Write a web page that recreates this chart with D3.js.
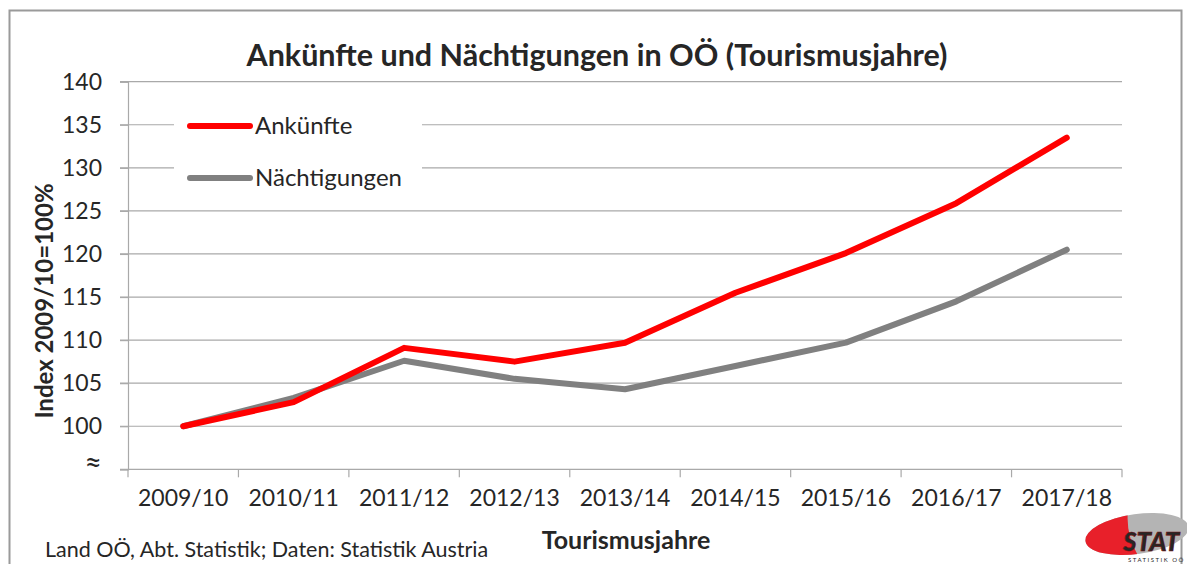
<!DOCTYPE html>
<html>
<head>
<meta charset="utf-8">
<script src="https://cdn.jsdelivr.net/npm/d3@7"></script>
<style>
  body { margin: 0; background: #fff; }
  text { font-family: Lato, "Open Sans", sans-serif; fill: #262626; }
</style>
</head>
<body>
<div id="container"></div>
<script>
/* DATA */
const years = ["2009/10", "2010/11", "2011/12", "2012/13", "2013/14", "2014/15", "2015/16", "2016/17", "2017/18"];
const ankuenfte = [100, 102.8, 109.1, 107.5, 109.7, 115.5, 120.1, 125.9, 133.5];
const naechtigungen = [100, 103.3, 107.6, 105.5, 104.3, 107.0, 109.7, 114.5, 120.5];
const yTicks = [95, 100, 105, 110, 115, 120, 125, 130, 135, 140];
const seriesNames = ["Ankünfte", "Nächtigungen"];
const seriesColors = ["#ff0000", "#808080"];

/* CONSTANTS */
const width = 1187;
const height = 564;
const plotLeft = 128, plotRight = 1122, plotTop = 81.7, plotBottom = 469.3;
const gridColor = "#a9a9a9";

const svg = d3.select("#container")
  .append("svg")
  .attr("width", width)
  .attr("height", height);

// frame
svg.append("rect")
  .attr("x", 9.5).attr("y", 10.5)
  .attr("width", 1172).attr("height", 600)
  .attr("fill", "none")
  .attr("stroke", "#9a9a9a")
  .attr("stroke-width", 2);

/* SCALES */
const xScale = d3.scaleBand()
  .domain(years)
  .range([plotLeft, plotRight])
  .padding(0);

const yScale = d3.scaleLinear()
  .domain([95, 140])
  .range([plotBottom, plotTop]);

const cx = d => xScale(d) + xScale.bandwidth() / 2;

// gridlines (+ left tick stubs)
svg.append("g")
  .selectAll("line")
  .data(yTicks.filter(t => t > 95))
  .join("line")
  .attr("x1", plotLeft - 8)
  .attr("x2", plotRight)
  .attr("y1", d => yScale(d))
  .attr("y2", d => yScale(d))
  .attr("stroke", gridColor)
  .attr("stroke-width", 1.2);

// y axis
svg.append("g")
  .attr("class", "y-axis")
  .attr("transform", `translate(${plotLeft},0)`)
  .call(d3.axisLeft(yScale).tickValues(yTicks).tickSize(8).tickPadding(18)
    .tickFormat(d => d === 95 ? "≈" : d))
  .call(g => g.select(".domain").attr("stroke", gridColor).attr("stroke-width", 1.2))
  .call(g => g.selectAll(".tick line").attr("stroke", gridColor).attr("stroke-width", 1.2))
  .call(g => g.selectAll(".tick text")
    .attr("font-size", d => d === 95 ? 30 : 23)
    .attr("dy", d => d === 95 ? "0.1em" : "0.32em")
    .attr("fill", "#262626")
    .attr("font-family", "Lato, 'Open Sans', sans-serif"));

// x axis: labels at band centres, ticks at band boundaries
const xAxis = svg.append("g")
  .attr("class", "x-axis")
  .attr("transform", `translate(0,${plotBottom})`);

xAxis.append("line")
  .attr("x1", plotLeft - 8).attr("x2", plotRight)
  .attr("stroke", gridColor).attr("stroke-width", 1.2);

xAxis.selectAll("line.tick")
  .data(years.concat(["end"]))
  .join("line")
  .attr("class", "tick")
  .attr("x1", d => d === "end" ? plotRight : xScale(d))
  .attr("x2", d => d === "end" ? plotRight : xScale(d))
  .attr("y1", 0).attr("y2", 8)
  .attr("stroke", gridColor).attr("stroke-width", 1.2);

xAxis.selectAll("text")
  .data(years)
  .join("text")
  .attr("x", d => cx(d))
  .attr("y", 37)
  .attr("text-anchor", "middle")
  .attr("font-size", 23)
  .text(d => d);

// legend box (hides the gridlines behind it)
svg.append("rect")
  .attr("x", 174).attr("y", 98)
  .attr("width", 248).attr("height", 104)
  .attr("fill", "#fff");

/* LINES */
const line = d3.line()
  .x((d, i) => cx(years[i]))
  .y(d => yScale(d));

[naechtigungen, ankuenfte].forEach((vals, k) => {
  svg.append("path")
    .datum(vals)
    .attr("d", line)
    .attr("fill", "none")
    .attr("stroke", seriesColors[1 - k])
    .attr("stroke-width", 6)
    .attr("stroke-linejoin", "round")
    .attr("stroke-linecap", "round");
});

// legend
const legend = svg.append("g").selectAll("g")
  .data(seriesNames)
  .join("g")
  .attr("transform", (d, i) => `translate(190,${126 + i * 52})`);

legend.append("line")
  .attr("x1", 0).attr("x2", 60)
  .attr("stroke", (d, i) => seriesColors[i])
  .attr("stroke-width", 6)
  .attr("stroke-linecap", "round");

legend.append("text")
  .attr("x", 65).attr("y", 8)
  .attr("font-size", 24)
  .text(d => d);

/* TITLES */
svg.append("text")
  .attr("x", 597).attr("y", 66)
  .attr("text-anchor", "middle")
  .attr("font-size", 30.5)
  .attr("font-weight", "bold")
  .attr("fill", "#1a1a1a")
  .text("Ankünfte und Nächtigungen in OÖ (Tourismusjahre)");

svg.append("text")
  .attr("transform", "translate(53,301) rotate(-90)")
  .attr("text-anchor", "middle")
  .attr("font-size", 24)
  .attr("font-weight", "bold")
  .text("Index 2009/10=100%");

svg.append("text")
  .attr("x", 626).attr("y", 549)
  .attr("text-anchor", "middle")
  .attr("font-size", 25)
  .attr("font-weight", "bold")
  .text("Tourismusjahre");

svg.append("text")
  .attr("x", 45).attr("y", 557)
  .attr("font-size", 21.5)
  .attr("fill", "#333")
  .text("Land OÖ, Abt. Statistik; Daten: Statistik Austria");

/* LOGO */
const logo = svg.append("g").attr("transform", "translate(1137,534) rotate(-8)");
logo.append("clipPath").attr("id", "ell")
  .append("ellipse").attr("rx", 52).attr("ry", 20);
logo.append("ellipse")
  .attr("rx", 52).attr("ry", 20)
  .attr("fill", "#b4b4b4");
logo.append("path")
  .attr("clip-path", "url(#ell)")
  .attr("d", "M-60,-30 L-4,-30 Q-14,0 2,30 L-60,30 Z")
  .attr("fill", "#e8202a");
logo.append("text")
  .attr("x", -14).attr("y", 17)
  .attr("transform", "rotate(8)")
  .attr("font-size", 26)
  .attr("font-weight", "900")
  .attr("font-style", "italic")
  .attr("fill", "#e8202a")
  .attr("stroke", "#7a1010")
  .attr("stroke-width", 0.6)
  .text("STAT");
svg.append("text")
  .attr("x", 1128).attr("y", 562)
  .attr("font-size", 6)
  .attr("letter-spacing", 1.5)
  .attr("fill", "#999")
  .text("STATISTIK OÖ");
</script>
</body>
</html>
